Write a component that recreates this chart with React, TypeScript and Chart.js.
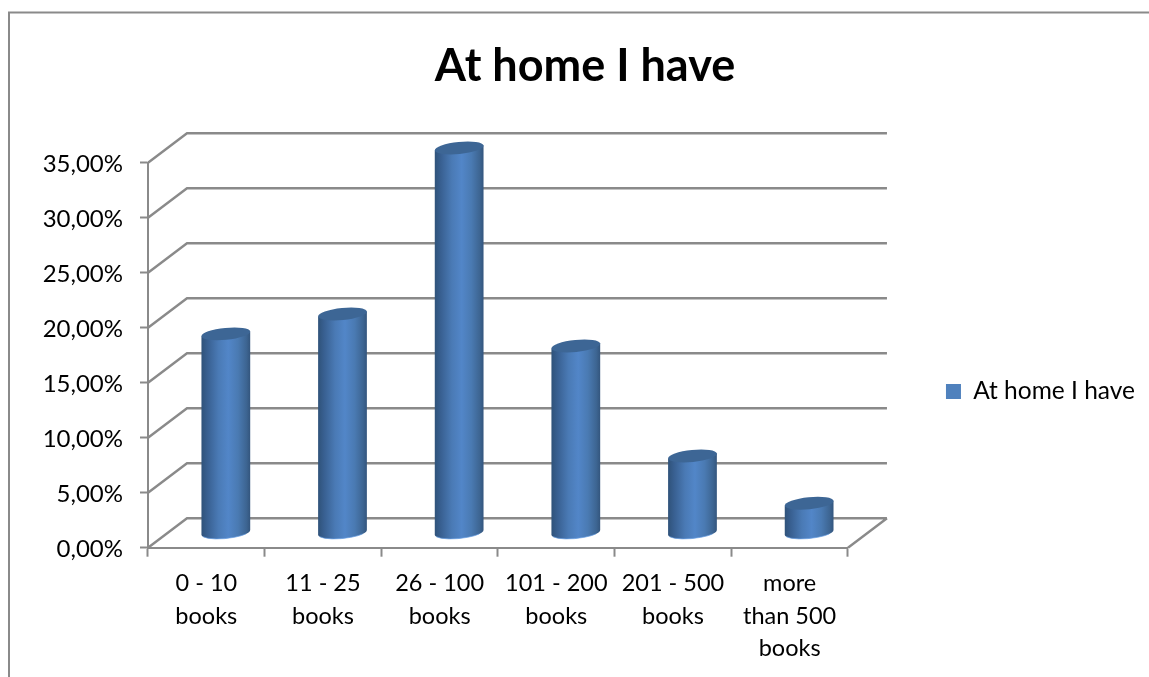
import React, { useEffect, useRef } from "react";
import { Chart, BarController, BarElement, registerables } from "chart.js";

Chart.register(...registerables);

const categories: string[][] = [
  ["0 - 10", "books"],
  ["11 - 25", "books"],
  ["26 - 100", "books"],
  ["101 - 200", "books"],
  ["201 - 500", "books"],
  ["more", "than 500", "books"],
];
const shares: number[] = [18.1, 19.9, 35, 17, 7, 2.7];
const seriesName = "At home I have";

const FONT = "Lato, Carlito, 'Open Sans', sans-serif";
const AXIS_GREY = "#8a8a8a";
const BAR_BLUE = "#4f81bd";

// Oblique projection of the plot box: how far the back wall sits from the front plane.
const DEPTH_X = 39;
const DEPTH_Y = -29.5;
const TILT = -0.1;
const CAP_RY = 6;

class CylinderElement extends BarElement {
  static id = "cylinder";
  static defaults = BarElement.defaults;
  static defaultRoutes = BarElement.defaultRoutes;

  draw(ctx: CanvasRenderingContext2D) {
    const { x, y, base, width } = this as any;
    const r = width / 2;
    // Cylinders stand half way between the front plane and the back wall.
    const cx = x + DEPTH_X / 2;
    const topY = y + DEPTH_Y / 2;
    const baseY = base + DEPTH_Y / 2;
    const dx = r * Math.cos(TILT);
    const dy = r * Math.sin(TILT);

    const body = ctx.createLinearGradient(cx - r, 0, cx + r, 0);
    body.addColorStop(0, "#2f5279");
    body.addColorStop(0.12, "#385f90");
    body.addColorStop(0.35, "#4a7ab5");
    body.addColorStop(0.55, "#5286c8");
    body.addColorStop(0.75, "#4a7ab2");
    body.addColorStop(0.92, "#3d6592");
    body.addColorStop(1, "#33557d");

    ctx.save();
    ctx.beginPath();
    ctx.moveTo(cx - dx, topY - dy);
    ctx.lineTo(cx - dx, baseY - dy);
    ctx.ellipse(cx, baseY, r, CAP_RY, TILT, Math.PI, 0, true);
    ctx.lineTo(cx + dx, topY + dy);
    ctx.closePath();
    ctx.fillStyle = body;
    ctx.fill();

    ctx.beginPath();
    ctx.ellipse(cx, baseY, r, CAP_RY, TILT, Math.PI * 0.9, Math.PI * 0.2, true);
    ctx.strokeStyle = "rgba(100,155,225,0.7)";
    ctx.lineWidth = 1;
    ctx.stroke();

    ctx.beginPath();
    ctx.ellipse(cx, topY, r, CAP_RY, TILT, 0, Math.PI * 2);
    ctx.fillStyle = "#3d6695";
    ctx.fill();
    ctx.restore();
  }
}

class CylinderController extends BarController {
  static id = "cylinder";
  static defaults = { ...BarController.defaults, dataElementType: "cylinder" };
  static overrides = BarController.overrides;
}

Chart.register(CylinderElement as any, CylinderController as any);

// Outer frame plus the receding walls and floor of the plot box.
const plotBox = {
  id: "plotBox",
  afterLayout(chart: any) {
    // The legend sits lower than the middle of its column, and a little left of its edge.
    chart.legend.top += 38;
    chart.legend.bottom += 38;
    chart.legend.left -= 4;
    chart.legend.right -= 4;
  },
  beforeDraw(chart: any) {
    const { ctx, width, height } = chart;
    ctx.save();
    ctx.fillStyle = "#ffffff";
    ctx.fillRect(0, 0, width, height);
    ctx.strokeStyle = AXIS_GREY;
    ctx.lineWidth = 2;
    ctx.beginPath();
    ctx.moveTo(9, height);
    ctx.lineTo(9, 12.5);
    ctx.lineTo(width, 12.5);
    ctx.stroke();
    ctx.restore();
  },
  beforeDatasetsDraw(chart: any) {
    const { ctx, chartArea, scales } = chart;
    const yScale = scales.y;
    ctx.save();
    ctx.strokeStyle = AXIS_GREY;
    ctx.lineWidth = 2.4;
    ctx.beginPath();
    for (const tick of yScale.ticks) {
      const py = yScale.getPixelForValue(tick.value);
      ctx.moveTo(chartArea.left, py);
      ctx.lineTo(chartArea.left + DEPTH_X, py + DEPTH_Y);
      ctx.lineTo(chartArea.right + DEPTH_X, py + DEPTH_Y);
    }
    ctx.moveTo(chartArea.right, chartArea.bottom);
    ctx.lineTo(chartArea.right + DEPTH_X, chartArea.bottom + DEPTH_Y);
    ctx.stroke();
    ctx.restore();
  },
};

export default function App() {
  const ref = useRef<HTMLCanvasElement>(null);

  useEffect(() => {
    if (!ref.current) return;
    const chart = new Chart(ref.current, {
      type: "cylinder" as any,
      data: {
        labels: categories,
        datasets: [
          {
            label: seriesName,
            data: shares,
            yAxisID: "y",
            backgroundColor: BAR_BLUE,
            categoryPercentage: 1,
            barPercentage: 0.42,
            clip: false,
          } as any,
        ],
      },
      plugins: [plotBox],
      options: {
        animation: false,
        responsive: false,
        layout: { padding: { left: 21, right: 0, top: 30, bottom: 0 } },
        scales: {
          x: {
            offset: true,
            grid: {
              offset: true,
              drawOnChartArea: false,
              tickLength: 9,
              tickWidth: 2,
              tickColor: AXIS_GREY,
            },
            border: { color: AXIS_GREY, width: 2 },
            ticks: {
              color: "#000000",
              padding: 11,
              maxRotation: 0,
              autoSkip: false,
              font: { family: FONT, size: 23.5, lineHeight: 1.38 },
            },
            afterFit(scale: any) {
              scale.height = 129.3;
            },
          },
          y: {
            min: 0,
            max: 35,
            position: "left",
            grid: {
              drawOnChartArea: false,
              tickLength: 8,
              tickWidth: 2,
              tickColor: AXIS_GREY,
            },
            border: { color: AXIS_GREY, width: 2 },
            ticks: {
              stepSize: 5,
              color: "#000000",
              padding: 17,
              labelOffset: 2,
              font: { family: FONT, size: 24 },
              callback: (v: any) => Number(v).toFixed(2).replace(".", ",") + "%",
            },
            afterFit(scale: any) {
              scale.width = 127;
            },
          },
          // Empty column that keeps the legend clear of the plot box.
          legendGap: {
            axis: "y",
            position: "right",
            display: true,
            grid: { display: false },
            border: { display: false },
            ticks: { display: false },
            afterFit(scale: any) {
              scale.width = 88;
            },
          } as any,
        },
        plugins: {
          tooltip: { enabled: false },
          title: {
            display: true,
            text: seriesName,
            color: "#000000",
            font: { family: FONT, size: 45, weight: "bold" },
            padding: { top: 9, bottom: 69.7 },
          },
          legend: {
            display: true,
            position: "right",
            maxWidth: 260,
            labels: {
              boxWidth: 15,
              boxHeight: 15,
              padding: 14,
              color: "#000000",
              font: { family: FONT, size: 24.5 },
            },
          },
        },
      },
    });
    return () => chart.destroy();
  }, []);

  return (
    <canvas
      ref={ref}
      width={1149}
      height={677}
      style={{ position: "absolute", left: 0, top: 0, display: "block" }}
    />
  );
}
